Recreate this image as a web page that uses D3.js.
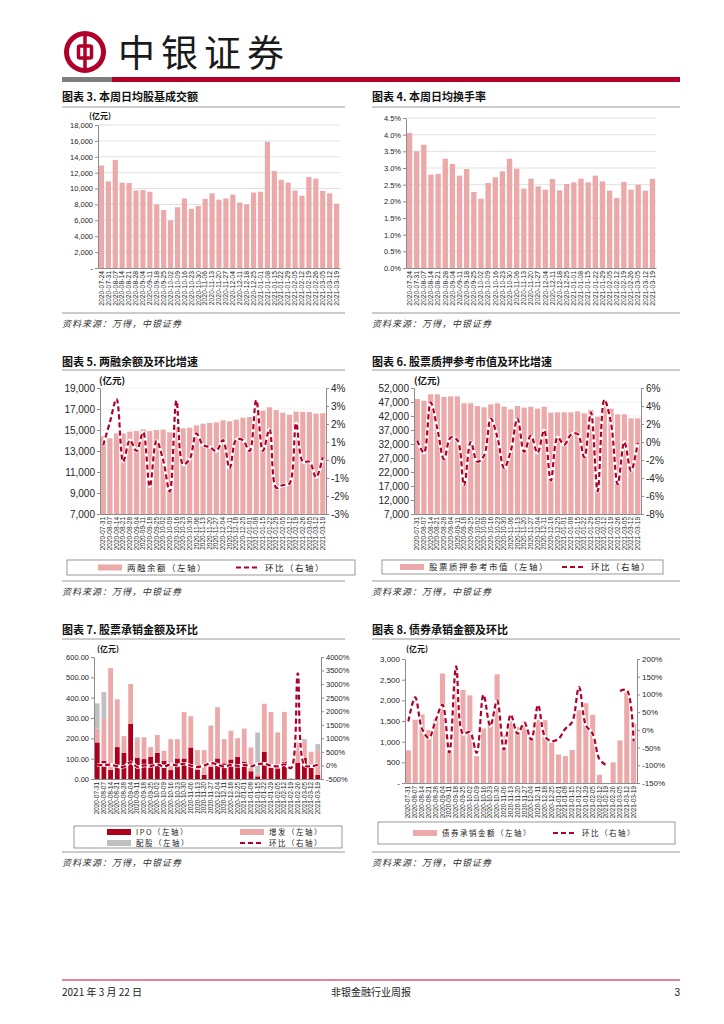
<!DOCTYPE html>
<html>
<head>
<meta charset="utf-8">
<script src="https://cdn.jsdelivr.net/npm/d3@7"></script>
<style>
  body { margin: 0; background: #fff; }
</style>
</head>
<body>
<svg id="page" width="724" height="1024"></svg>
<script>
// ---- data ----
const weeks35 = ['2020-07-24','2020-07-31','2020-08-07','2020-08-14','2020-08-21','2020-08-28','2020-09-04',
  '2020-09-11','2020-09-18','2020-09-25','2020-10-02','2020-10-09','2020-10-16','2020-10-23','2020-10-30',
  '2020-11-06','2020-11-13','2020-11-20','2020-11-27','2020-12-04','2020-12-11','2020-12-18','2020-12-25',
  '2021-01-01','2021-01-08','2021-01-15','2021-01-22','2021-01-29','2021-02-05','2021-02-12','2021-02-19',
  '2021-02-26','2021-03-05','2021-03-12','2021-03-19'];
const weeks34 = ['2020-07-31','2020-08-07','2020-08-14','2020-08-21','2020-08-28','2020-09-04',
  '2020-09-11','2020-09-18','2020-09-25','2020-10-02','2020-10-09','2020-10-16','2020-10-23','2020-10-30',
  '2020-11-06','2020-11-13','2020-11-20','2020-11-27','2020-12-04','2020-12-11','2020-12-18','2020-12-25',
  '2021-01-01','2021-01-08','2021-01-15','2021-01-22','2021-01-29','2021-02-05','2021-02-12','2021-02-19',
  '2021-02-26','2021-03-05','2021-03-12','2021-03-19'];

// chart 3: 日均股基成交额 (亿元)
const turnover = [12900,10900,13600,10750,10700,9750,9800,9600,8000,7300,6000,7650,8750,7450,7800,8700,9400,
  8600,8750,9250,8250,8000,9500,9600,15900,12200,11100,10750,9750,9100,11450,11250,9700,9400,8100];
const turnoverTicks = [0,2000,4000,6000,8000,10000,12000,14000,16000,18000];

// chart 4: 日均换手率 (%)
const turnRate = [4.05,3.5,3.7,2.8,2.82,3.28,3.12,2.77,2.97,2.28,2.08,2.55,2.72,2.9,3.28,2.98,2.38,2.68,2.45,
  2.35,2.67,2.33,2.52,2.57,2.68,2.57,2.77,2.6,2.32,2.1,2.58,2.35,2.5,2.32,2.67];
const turnRateTicks = [0,0.5,1,1.5,2,2.5,3,3.5,4,4.5];

// chart 5: 两融余额 (亿元) & 环比 (%)
const margin = [14400,14210,14680,14680,14840,14900,15060,14900,15000,15030,14780,15250,15160,15220,15440,
  15600,15670,15730,15920,15830,15980,16170,16240,16590,16840,17160,16900,16650,16460,16750,16720,16720,16560,16590];
const marginChg = [0.83,2.1,3.39,-0.09,1.1,0.5,1.54,-1.48,1.06,0.0,-1.76,3.3,-0.24,0.06,1.48,0.83,0.72,0.5,1.1,
  -0.46,1.13,1.1,0.5,3.33,0.5,1.7,-1.54,-1.39,-1.3,2.04,-0.09,-0.09,-0.96,0.15];
const marginTicks = [7000,9000,11000,13000,15000,17000,19000];
const marginChgTicks = [-3,-2,-1,0,1,2,3,4];

// chart 6: 股票质押参考市值 (亿元) & 环比 (%)
const pledge = [48070,47470,49740,49740,48790,48990,48990,46530,46530,45570,45100,46170,46530,45330,44380,
  45570,44980,45330,44620,45330,43190,43310,43310,43310,43670,42950,44140,41760,45500,44620,42590,42590,41170,41170];
const pledgeChg = [0.15,-1.2,4.4,1.5,-1.9,0.5,0.2,-4.8,0.0,-2.2,-1.5,2.6,0.5,-2.9,-1.0,2.6,-1.1,0.7,-1.2,1.3,
  -4.3,0.5,-0.3,0.8,0.9,-1.7,3.3,-5.5,4.7,2.1,-4.7,0.0,-3.2,-0.1];
const pledgeTicks = [7000,12000,17000,22000,27000,32000,37000,42000,47000,52000];
const pledgeChgTicks = [-8,-6,-4,-2,0,2,4,6];

// chart 7: 股票承销金额 (亿元)
const ipo = [180,90,45,157,128,272,105,98,110,129,90,44,101,101,155,46,21,60,101,77,96,108,85,38,13,134,56,52,85,0,79,105,55,20];
const seo = [68,208,500,235,83,195,88,107,47,87,49,152,95,228,150,96,121,203,252,119,141,93,163,117,13,236,274,177,245,5,101,78,79,122];
const rights = [124,129,0,0,0,0,12,0,0,0,0,0,0,0,4,0,0,0,0,0,0,0,0,0,203,0,0,0,0,0,0,13,0,30];
const equityChg = [10,15,28,-28,-46,121,-56,0,-23,38,-36,41,0,68,-6,-54,0,85,34,-44,21,-15,23,-38,48,62,-11,-31,44,-98,3400,9,-32,28];
const equityTicks = [0,100,200,300,400,500,600];
const equityChgTicks = [-500,0,500,1000,1500,2000,2500,3000,3500,4000];

// chart 8: 债券承销金额 (亿元) & 环比 (%)
const bond = [790,1530,1660,1280,1550,2650,950,2500,2250,2120,650,1320,1460,2630,1150,1500,1350,1490,1100,1530,
  1520,990,690,650,800,1760,1930,1650,200,0,500,1030,2190,1440];
const bondChg = [24,92,3,-23,27,71,-64,179,-11,-6,-65,99,11,83,-56,43,-11,20,-28,70,-18,-32,-25,3,22,121,13,-11,
  -83,-100,null,110,112,-32];
const bondTicks = [0,500,1000,1500,2000,2500,3000];
const bondChgTicks = [-150,-100,-50,0,50,100,150,200];

// ---- style ----
const FONT = '"Liberation Sans Narrow","Liberation Sans",Arial,sans-serif';
const CN = '"Noto Sans CJK SC",sans-serif';
const PINK = '#eba9a9';
const RED = '#b0002a';
const DARK = '#ad001c';
const GREY = '#bfbfbf';
const AX = '#8c8c8c';

const svg = d3.select('#page');

// ---- header / footer ----
svg.append('circle').attr('cx', 85).attr('cy', 52).attr('r', 18.5)
  .attr('fill', 'none').attr('stroke', RED).attr('stroke-width', 5);
svg.append('rect').attr('x', 78.5).attr('y', 46).attr('width', 13).attr('height', 12).attr('rx', 1.5)
  .attr('fill', 'none').attr('stroke', RED).attr('stroke-width', 3.5);
svg.append('line').attr('x1', 85).attr('x2', 85).attr('y1', 34).attr('y2', 70)
  .attr('stroke', RED).attr('stroke-width', 3.5);
svg.append('text').attr('x', 118).attr('y', 67).attr('font-family', CN).attr('font-size', 37)
  .attr('letter-spacing', 6).attr('fill', '#1a1a1a').text('中银证券');
svg.append('rect').attr('x', 62).attr('y', 77).attr('width', 50).attr('height', 5).attr('fill', '#7f7f7f');
svg.append('rect').attr('x', 112).attr('y', 77).attr('width', 568).attr('height', 5).attr('fill', RED);

svg.append('line').attr('x1', 62).attr('x2', 680).attr('y1', 980).attr('y2', 980)
  .attr('stroke', '#c8102e').attr('stroke-width', 1);
svg.append('text').attr('x', 62).attr('y', 996).attr('font-family', CN).attr('font-size', 10)
  .attr('fill', '#222').text('2021 年 3 月 22 日');
svg.append('text').attr('x', 371).attr('y', 996).attr('text-anchor', 'middle').attr('font-family', CN)
  .attr('font-size', 10).attr('fill', '#222').text('非银金融行业周报');
svg.append('text').attr('x', 680).attr('y', 996).attr('text-anchor', 'end').attr('font-family', FONT)
  .attr('font-size', 10).attr('fill', '#222').text('3');

// ---- helpers ----
function frame(left, right, title, titleY, ruleY, srcY) {
  svg.append('text').attr('x', left).attr('y', titleY).attr('font-family', CN).attr('font-weight', 700)
    .attr('font-size', 11).attr('fill', '#111').text(title);
  svg.append('line').attr('x1', left).attr('x2', right).attr('y1', ruleY).attr('y2', ruleY)
    .attr('stroke', '#7f7f7f').attr('stroke-width', 0.8);
  svg.append('line').attr('x1', left).attr('x2', right).attr('y1', srcY).attr('y2', srcY)
    .attr('stroke', '#7f7f7f').attr('stroke-width', 0.8);
  svg.append('text').attr('x', left).attr('y', srcY + 14).attr('font-family', CN).attr('font-style', 'italic')
    .attr('font-size', 9).attr('letter-spacing', 1).attr('fill', '#333').text('资料来源：万得，中银证券');
}

function unit(x, y, fs) {
  svg.append('text').attr('x', x).attr('y', y).attr('font-family', CN).attr('font-weight', 700)
    .attr('font-size', fs).attr('fill', '#111').text('(亿元)');
}

function styleAxis(g, fs) {
  g.attr('font-family', FONT).attr('font-size', fs);
  g.select('.domain').attr('stroke', AX);
  g.selectAll('.tick line').attr('stroke', AX);
  g.selectAll('.tick text').attr('fill', '#262626');
}

function leftAxis(y, ticks, fmt, x, fs) {
  const g = svg.append('g').attr('transform', `translate(${x},0)`)
    .call(d3.axisLeft(y).tickValues(ticks).tickFormat(fmt).tickSize(3).tickSizeOuter(0).tickPadding(2));
  styleAxis(g, fs);
}

function rightAxis(y, ticks, fmt, x, fs) {
  const g = svg.append('g').attr('transform', `translate(${x},0)`)
    .call(d3.axisRight(y).tickValues(ticks).tickFormat(fmt).tickSize(3).tickSizeOuter(0).tickPadding(2));
  styleAxis(g, fs);
}

function bottomAxis(x, yPos, fs) {
  const g = svg.append('g').attr('transform', `translate(0,${yPos})`)
    .call(d3.axisBottom(x).tickSize(0).tickSizeOuter(0));
  styleAxis(g, fs);
  g.selectAll('.tick text').attr('transform', 'rotate(-90)').attr('x', -3).attr('y', 0)
    .attr('dy', '0.33em').attr('text-anchor', 'end');
}

function grid(y, ticks, x0, x1, color) {
  svg.append('g').selectAll('line').data(ticks).join('line')
    .attr('x1', x0).attr('x2', x1).attr('y1', d => y(d)).attr('y2', d => y(d))
    .attr('stroke', color).attr('stroke-width', 0.8);
}

function bars(x, y, cats, vals, color) {
  svg.append('g').selectAll('rect').data(vals).join('rect')
    .attr('x', (d, i) => x(cats[i])).attr('width', x.bandwidth())
    .attr('y', d => y(d)).attr('height', d => y.range()[0] - y(d)).attr('fill', color);
}

function dashLine(x, y, cats, vals, w) {
  const line = d3.line().defined(d => d != null)
    .x((d, i) => x(cats[i]) + x.bandwidth() / 2).y(d => y(d))
    .curve(d3.curveCatmullRom.alpha(0.5));
  svg.append('path').attr('d', line(vals)).attr('fill', 'none').attr('stroke', '#fff').attr('stroke-width', w + 1.2);
  svg.append('path').attr('d', line(vals)).attr('fill', 'none').attr('stroke', RED)
    .attr('stroke-width', w).attr('stroke-dasharray', '5,3');
}

function legendBox(x, y, w, h) {
  svg.append('rect').attr('x', x).attr('y', y).attr('width', w).attr('height', h)
    .attr('fill', '#fff').attr('stroke', '#7f7f7f').attr('stroke-width', 0.8);
}

function legendItem(type, color, x, y, label, fs) {
  if (type === 'bar') {
    svg.append('rect').attr('x', x).attr('y', y - 3).attr('width', 24).attr('height', 6).attr('fill', color);
  } else {
    svg.append('line').attr('x1', x).attr('x2', x + 24).attr('y1', y).attr('y2', y)
      .attr('stroke', color).attr('stroke-width', 2.2).attr('stroke-dasharray', '5,3');
  }
  svg.append('text').attr('x', x + 29).attr('y', y).attr('dy', '0.36em').attr('font-family', CN)
    .attr('font-size', fs).attr('letter-spacing', 1.5).attr('fill', '#222').text(label);
}

const fmtDash = v => v === 0 ? '-' : d3.format(',')(v);

// ---- chart 3 ----
frame(62, 345, '图表 3. 本周日均股基成交额', 101, 107, 313);
unit(89, 119, 8);
{
  const x = d3.scaleBand().domain(weeks35).range([98, 340]).paddingInner(0.25).paddingOuter(0.12);
  const y = d3.scaleLinear().domain([0, 18000]).range([268, 125]);
  grid(y, turnoverTicks.slice(1), 98, 340, '#d9d9d9');
  bars(x, y, weeks35, turnover, PINK);
  leftAxis(y, turnoverTicks, fmtDash, 98, 7.5);
  bottomAxis(x, 268, 6.8);
}

// ---- chart 4 ----
frame(372, 680, '图表 4. 本周日均换手率', 101, 107, 313);
{
  const x = d3.scaleBand().domain(weeks35).range([406, 656]).paddingInner(0.25).paddingOuter(0.12);
  const y = d3.scaleLinear().domain([0, 4.5]).range([268, 118]);
  grid(y, turnRateTicks.slice(1), 406, 656, '#d9d9d9');
  bars(x, y, weeks35, turnRate, PINK);
  leftAxis(y, turnRateTicks, v => v.toFixed(1) + '%', 406, 7.5);
  bottomAxis(x, 268, 6.8);
}

// ---- chart 5 ----
frame(62, 345, '图表 5. 两融余额及环比增速', 366, 370, 581);
unit(99, 384, 9.5);
{
  const x = d3.scaleBand().domain(weeks34).range([100, 326]).paddingInner(0.22).paddingOuter(0.1);
  const y = d3.scaleLinear().domain([7000, 19000]).range([514, 388]);
  const y2 = d3.scaleLinear().domain([-3, 4]).range([514, 388]);
  grid(y, marginTicks.slice(1), 100, 326, '#ededed');
  bars(x, y, weeks34, margin, PINK);
  dashLine(x, y2, weeks34, marginChg, 2.2);
  leftAxis(y, marginTicks, d3.format(','), 100, 10);
  rightAxis(y2, marginChgTicks, v => v + '%', 326, 10);
  bottomAxis(x, 514, 6.5);
  legendBox(67, 560, 288, 15);
  legendItem('bar', PINK, 98, 567.5, '两融余额（左轴）', 8.5);
  legendItem('dash', RED, 236, 567.5, '环比（右轴）', 8.5);
}

// ---- chart 6 ----
frame(372, 680, '图表 6. 股票质押参考市值及环比增速', 366, 370, 581);
unit(414, 384, 9.5);
{
  const x = d3.scaleBand().domain(weeks34).range([414, 641]).paddingInner(0.22).paddingOuter(0.1);
  const y = d3.scaleLinear().domain([7000, 52000]).range([514, 388]);
  const y2 = d3.scaleLinear().domain([-8, 6]).range([514, 388]);
  grid(y, pledgeTicks.slice(1), 414, 641, '#ededed');
  bars(x, y, weeks34, pledge, PINK);
  dashLine(x, y2, weeks34, pledgeChg, 2.2);
  leftAxis(y, pledgeTicks, d3.format(','), 414, 10);
  rightAxis(y2, pledgeChgTicks, v => v + '%', 641, 10);
  bottomAxis(x, 514, 6.5);
  legendBox(382, 560, 281, 14);
  legendItem('bar', PINK, 400, 567, '股票质押参考市值（左轴）', 8.5);
  legendItem('dash', RED, 562, 567, '环比（右轴）', 8.5);
}

// ---- chart 7 ----
frame(62, 345, '图表 7. 股票承销金额及环比', 634, 639, 852);
unit(97, 652, 8);
{
  const x = d3.scaleBand().domain(weeks34).range([94, 321]).paddingInner(0.28).paddingOuter(0.12);
  const y = d3.scaleLinear().domain([0, 600]).range([779, 657]);
  const y2 = d3.scaleLinear().domain([-500, 4000]).range([779, 657]);
  const stack = d3.stack().keys(['ipo', 'seo', 'rights'])(weeks34.map((c, i) => ({ ipo: ipo[i], seo: seo[i], rights: rights[i] })));
  const colors = { ipo: DARK, seo: PINK, rights: GREY };
  stack.forEach(layer => {
    svg.append('g').selectAll('rect').data(layer).join('rect')
      .attr('x', (d, i) => x(weeks34[i])).attr('width', x.bandwidth())
      .attr('y', d => y(d[1])).attr('height', d => y(d[0]) - y(d[1])).attr('fill', colors[layer.key]);
  });
  dashLine(x, y2, weeks34, equityChg, 2.2);
  leftAxis(y, equityTicks, d3.format('.2f'), 94, 7.5);
  rightAxis(y2, equityChgTicks, v => v + '%', 321, 7.5);
  bottomAxis(x, 779, 6.3);
  legendBox(74, 826, 268, 22);
  legendItem('bar', DARK, 107, 832, 'IPO（左轴）', 7.5);
  legendItem('bar', PINK, 240, 832, '增发（左轴）', 7.5);
  legendItem('bar', GREY, 107, 843, '配股（左轴）', 7.5);
  legendItem('dash', RED, 240, 843, '环比（右轴）', 7.5);
}

// ---- chart 8 ----
frame(372, 680, '图表 8. 债券承销金额及环比', 634, 639, 852);
unit(406, 652, 8);
{
  const x = d3.scaleBand().domain(weeks34).range([405, 637]).paddingInner(0.25).paddingOuter(0.12);
  const y = d3.scaleLinear().domain([0, 3000]).range([783, 659]);
  const y2 = d3.scaleLinear().domain([-150, 200]).range([783, 659]);
  bars(x, y, weeks34, bond, PINK);
  dashLine(x, y2, weeks34, bondChg, 2.2);
  leftAxis(y, bondTicks, fmtDash, 405, 8);
  rightAxis(y2, bondChgTicks, v => v + '%', 637, 8);
  bottomAxis(x, 783, 6.3);
  legendBox(378, 822, 297, 22);
  legendItem('bar', PINK, 413, 833, '债券承销金额（左轴）', 7.5);
  legendItem('dash', RED, 553, 833, '环比（右轴）', 7.5);
}
</script>
</body>
</html>
